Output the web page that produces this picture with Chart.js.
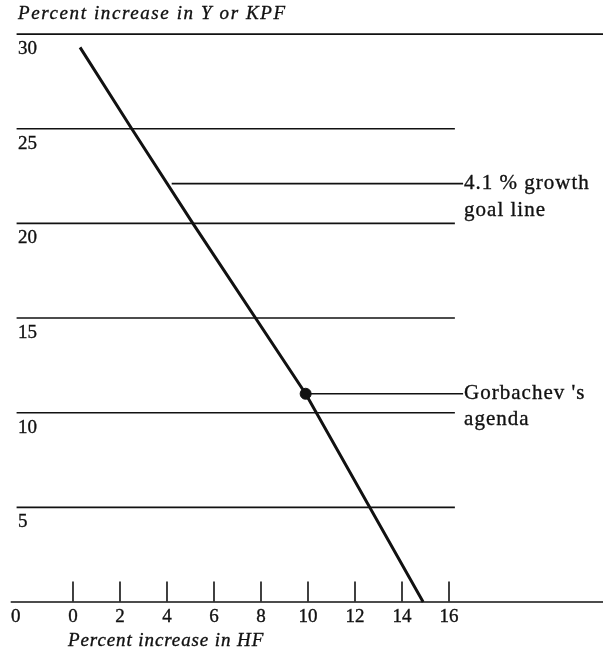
<!DOCTYPE html>
<html>
<head>
<meta charset="utf-8">
<script src="https://cdn.jsdelivr.net/npm/chart.js@4"></script>
<style>
  html, body { margin: 0; padding: 0; background: #fff; }
</style>
</head>
<body>
<canvas id="mychart" width="603" height="652"></canvas>
<script>
//DATA---------------------------------------------------------------
const yTicks = [0, 5, 10, 15, 20, 25, 30];
const xTicks = [0, 2, 4, 6, 8, 10, 12, 14, 16];
// line (HF, Y or KPF)
const hfPath = [0.3, 2.5, 5.1, 9.9, 14.9];
const ykpfPath = [29.3, 25, 20, 11, 0];
const goalValue = 22.1;
const goalStartHF = 4.2;
const agendaHF = 9.9;
const agendaY = 11.0;
const titleY = "Percent increase in Y or KPF";
const titleX = "Percent increase in HF";
const goalText = ["4.1 % growth", "goal line"];
const agendaText = ["Gorbachev 's", "agenda"];
//-------------------------------------------------------------------

const ink = "#111";
const font = "Liberation Serif";

//HORIZONTAL LINES
const hLines = yTicks.map(function (v) {
  const longOne = v === 0 || v === 30;
  return {
    data: [{ x: v === 0 ? -2.65 : -2.4, y: v }, { x: longOne ? 22.6 : 16.25, y: v }],
    showLine: true,
    borderColor: ink,
    borderWidth: longOne ? 1.7 : 1.6,
    pointRadius: 0,
  };
});

//DIAGONAL
const pathData = hfPath.map(function (x, i) {
  return { x: x, y: ykpfPath[i] };
});

const datasets = hLines.concat([
  {
    data: pathData,
    showLine: true,
    borderColor: ink,
    borderWidth: 3,
    pointRadius: 0,
  },
  {
    data: [{ x: goalStartHF, y: goalValue }, { x: 16.6, y: goalValue }],
    showLine: true,
    borderColor: ink,
    borderWidth: 1.6,
    pointRadius: 0,
  },
  {
    data: [{ x: agendaHF, y: agendaY }, { x: 16.6, y: agendaY }],
    showLine: true,
    borderColor: ink,
    borderWidth: 1.6,
    pointRadius: 0,
  },
  {
    data: [{ x: agendaHF, y: agendaY }],
    pointRadius: 5.5,
    backgroundColor: ink,
    borderColor: ink,
  },
  {
    // tick marks above the axis
    data: xTicks.map(function (t) { return { x: t, y: 0.55 }; }),
    pointStyle: "line",
    rotation: 90,
    pointRadius: 10,
    borderWidth: 1.6,
    borderColor: ink,
  },
]);

//TEXTS
function heavyText(ctx, s, x, y) {
  ctx.fillText(s, x, y);
  ctx.strokeText(s, x, y);
}

const textPlugin = {
  id: "texts",
  afterDraw(chart) {
    const ctx = chart.ctx;
    const xs = chart.scales.x;
    const ys = chart.scales.y;
    ctx.save();
    ctx.fillStyle = ink;
    ctx.strokeStyle = ink;
    ctx.lineWidth = 0.35;
    ctx.textBaseline = "middle";

    ctx.font = "italic 19px '" + font + "'";
    ctx.textAlign = "left";
    ctx.letterSpacing = "1.6px";
    heavyText(ctx, titleY, 18, 14);
    ctx.letterSpacing = "0.9px";
    heavyText(ctx, titleX, 68, 641);
    ctx.letterSpacing = "0px";

    ctx.font = "19px '" + font + "'";
    yTicks.forEach(function (v) {
      heavyText(ctx, String(v), v === 0 ? 11 : 18, ys.getPixelForValue(v) + 15);
    });
    ctx.textAlign = "center";
    xTicks.forEach(function (t) {
      heavyText(ctx, String(t), xs.getPixelForValue(t), ys.getPixelForValue(0) + 15);
    });

    ctx.textAlign = "left";
    ctx.font = "21px '" + font + "'";
    ctx.letterSpacing = "1px";
    const tx = xs.getPixelForValue(16.6) + 1;
    const gy = ys.getPixelForValue(goalValue);
    heavyText(ctx, goalText[0], tx, gy);
    heavyText(ctx, goalText[1], tx, gy + 27);
    const ay = ys.getPixelForValue(agendaY);
    heavyText(ctx, agendaText[0], tx, ay);
    heavyText(ctx, agendaText[1], tx, ay + 26);
    ctx.restore();
  },
};

//RENDER
const config = {
  type: "scatter",
  data: { datasets: datasets },
  options: {
    responsive: false,
    animation: false,
    layout: { padding: 0, autoPadding: false },
    plugins: { legend: { display: false }, tooltip: { enabled: false } },
    scales: {
      x: { type: "linear", min: -3.106, max: 22.553, display: false },
      y: { type: "linear", min: -2.641, max: 31.80, display: false },
    },
  },
  plugins: [textPlugin],
};

const myChart = new Chart(document.getElementById("mychart"), config);
</script>
</body>
</html>
